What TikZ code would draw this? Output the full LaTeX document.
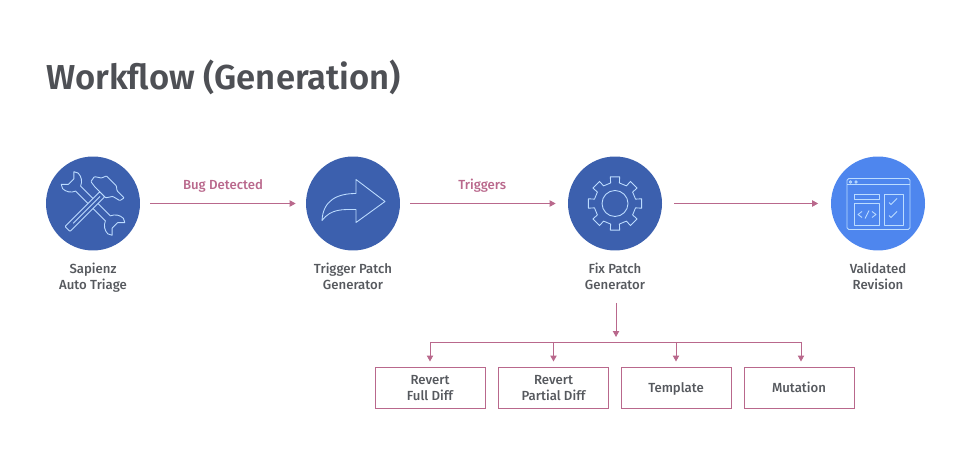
\documentclass[tikz,border=0pt]{standalone}
\usepackage{fontspec}
\setmainfont{Fira Sans}[UprightFont=* Medium,BoldFont=* SemiBold]
\usepackage{xcolor}
\usetikzlibrary{arrows.meta}
\definecolor{darkblue}{HTML}{3C60AE}
\definecolor{lightblue}{HTML}{4E86EE}
\definecolor{iconline}{HTML}{BCDCFF}
\definecolor{pinkline}{HTML}{B9688C}
\definecolor{labelgrey}{HTML}{56595E}
\tikzstyle{mycircle} = [circle, minimum size=1.88cm, inner sep=0pt, fill=darkblue]
\tikzstyle{mylabel} = [anchor=north, align=center, inner sep=0pt, text=labelgrey, font=\fontsize{7.5}{9.1}\selectfont]
\tikzstyle{mybox} = [draw=pinkline, line width=0.55pt, minimum width=2.2cm, minimum height=0.82cm, inner sep=0pt, align=center, text=labelgrey, font=\fontsize{7.5}{9.1}\selectfont]
\tikzstyle{myarrow} = [draw=pinkline, line width=0.55pt, -{Triangle[length=3.4pt,width=3.6pt]}]
\tikzstyle{myedge} = [midway, above=0.21cm, inner sep=0pt, text=pinkline, font=\fontsize{7.5}{9.1}\selectfont]
\tikzstyle{myicon} = [draw=iconline, line width=0.5pt, line join=round]
\begin{document}
\begin{tikzpicture}[x=0.02cm, y=-0.02cm]
        \useasboundingbox (0,0) rectangle (963,475);
        
        % Title
        \node[anchor=base west, inner sep=0pt, text=labelgrey!90!black, font=\fontsize{19.7}{24}\bfseries] (title) at (46,90) {Workflow (Generation)};
        
        % Circles
        \node[mycircle] (triage) at (93,203.5) {};
        \node[mylabel] (triage_label) at (93,262.5) {Sapienz\\Auto Triage};
        \node[mycircle] (trigger) at (353,203.5) {};
        \node[mylabel] (trigger_label) at (353,262.5) {Trigger Patch\\Generator};
        \node[mycircle] (fix) at (615,203.5) {};
        \node[mylabel] (fix_label) at (615,262.5) {Fix Patch\\Generator};
        \node[mycircle, fill=lightblue] (revision) at (878,203.5) {};
        \node[mylabel] (revision_label) at (878,262.5) {Validated\\Revision};
        
        % Boxes
        \node[mybox] (full) at (430,387.5) {\rule{0pt}{6.3pt}Revert\\Full Diff};
        \node[mybox] (partial) at (553.5,387.5) {\rule{0pt}{6.3pt}Revert\\Partial Diff};
        \node[mybox] (template) at (676,387.5) {\rule{0pt}{7.5pt}Template};
        \node[mybox] (mutation) at (799,387.5) {\rule{0pt}{7.5pt}\vphantom{p}Mutation};
        
        % Arrows between circles
        \draw[myarrow, shorten <=0.2cm, shorten >=0.2cm] (triage) -- node[myedge] {Bug Detected} (trigger);
        \draw[myarrow, shorten <=0.2cm, shorten >=0.24cm] (trigger) -- node[myedge, xshift=-1pt] {Triggers} (fix);
        \draw[myarrow, shorten <=0.24cm, shorten >=0.25cm] (fix) -- (revision);
        
        % Branches to boxes
        \coordinate (bus_full) at (430,342);
        \coordinate (bus_partial) at (553.5,342);
        \coordinate (bus_fix) at (616,342);
        \coordinate (bus_template) at (676,342);
        \coordinate (bus_mutation) at (801,342);
        \coordinate (fix_start) at (616,303);
        \draw[myarrow, shorten >=0.1cm] (fix_start) -- (bus_fix);
        \draw[draw=pinkline, line width=0.55pt] (bus_full) -- (bus_mutation);
        \draw[myarrow, shorten >=0.1cm] (bus_full) -- (full);
        \draw[myarrow, shorten >=0.1cm] (bus_partial) -- (partial);
        \draw[myarrow, shorten >=0.1cm] (bus_template) -- (template);
        \draw[myarrow, shorten >=0.1cm] (bus_mutation) -- (bus_mutation |- mutation.north);
        
        % Wrench and hammer
        \begin{scope}[shift={(93,203.5)}, rotate=-45]
            \draw[myicon] (-21,-3.5) -- (21,-3.5) .. controls (23,-8) and (27,-11) .. (32,-11) -- (36,-9) -- (31,-4) -- (31,4) -- (36,9) -- (32,11) .. controls (27,11) and (23,8) .. (21,3.5) -- (-21,3.5) .. controls (-23,8) and (-27,11) .. (-32,11) -- (-36,9) -- (-31,4) -- (-31,-4) -- (-36,-9) -- (-32,-11) .. controls (-27,-11) and (-23,-8) .. (-21,-3.5) -- cycle;
        \end{scope}
        \begin{scope}[shift={(93,203.5)}, rotate=45]
            \draw[myicon, fill=darkblue, rounded corners=0.4pt] (-36,-3.5) -- (13,-3.5) -- (13,3.5) -- (-36,3.5) -- cycle;
            \draw[myicon] (-28,0) -- (10,0);
            \draw[myicon, fill=darkblue, rounded corners=0.4pt] (13,-10) -- (14,-17) -- (20,-18) -- (24,-12) -- (29,-10) -- (29,4) -- (26,8) -- (26,18) -- (21,17) -- (19,9) -- (13,5) -- cycle;
        \end{scope}
        
        % Curved arrow
        \begin{scope}[shift={(353,203.5)}]
            \draw[myicon] (32,-2) -- (3,-24) -- (3,-10) .. controls (-16,-10) and (-30,-3) .. (-31,17) .. controls (-22,5) and (-10,6) .. (3,6) -- (3,19) -- cycle;
        \end{scope}
        
        % Gear
        \begin{scope}[shift={(615,203.5)}]
            \draw[myicon] (-12:21) \foreach \a in {0,45,...,315} { -- (\a-12:21) -- (\a-10:27) -- (\a+10:27) -- (\a+12:21) } -- cycle;
            \draw[myicon] (0,0) circle (13);
        \end{scope}
        
        % Window
        \begin{scope}[shift={(878,203.5)}]
            \draw[myicon, rounded corners=1pt] (-31,-25) rectangle (32,26);
            \draw[myicon] (-31,-19) -- (32,-19);
            \draw[myicon] (-27.5,-21.5) circle (1.2);
            \draw[myicon] (-22,-21.5) circle (1.2);
            \draw[myicon] (-24,-9.5) rectangle (1,-4);
            \draw[myicon] (-24,0) rectangle (1,22);
            \draw[myicon] (6,-9.5) rectangle (25,22);
            \draw[myicon] (-16,8) -- (-20,11) -- (-16,14);
            \draw[myicon] (-9,7) -- (-13,15);
            \draw[myicon] (-6,8) -- (-2,11) -- (-6,14);
            \draw[myicon] (11,-1) -- (13,1) -- (19,-5);
            \draw[myicon] (11,12) -- (13,14) -- (19,8);
        \end{scope}
\end{tikzpicture}
\end{document}
